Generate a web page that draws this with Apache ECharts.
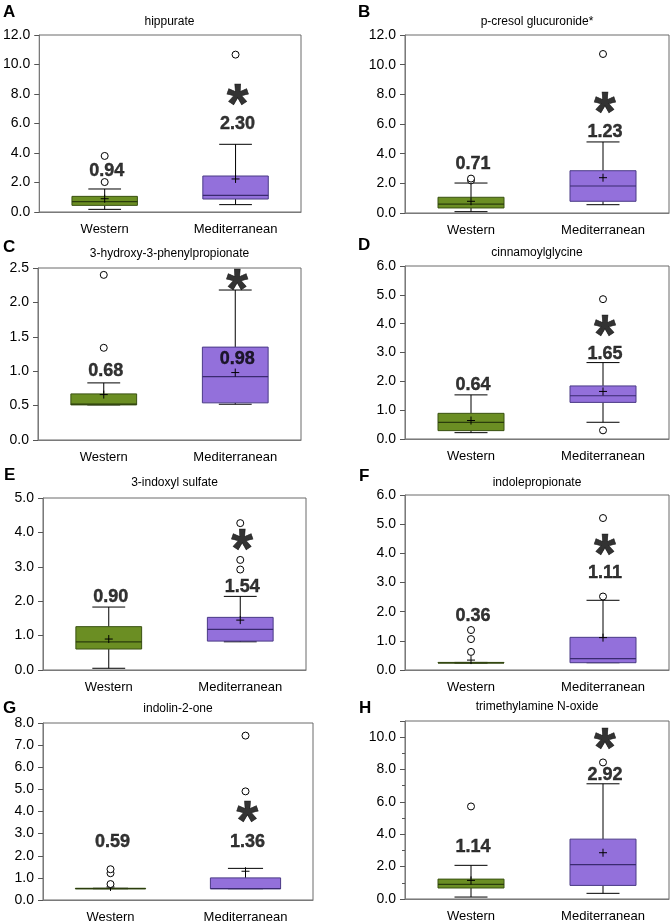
<!DOCTYPE html>
<html><head><meta charset="utf-8">
<script src="https://cdn.jsdelivr.net/npm/echarts/dist/echarts.min.js"></script>
<style>html,body{margin:0;padding:0;background:#fff}#c{width:672px;height:924px}</style>
</head><body><div id="c"></div>
<script>
// ---------------- DATA ----------------
const categories = ['Western', 'Mediterranean'];
const panelLetters = ['A', 'B', 'C', 'D', 'E', 'F', 'G', 'H'];
const titles = ['hippurate', 'p-cresol glucuronide*', '3-hydroxy-3-phenylpropionate', 'cinnamoylglycine',
  '3-indoxyl sulfate', 'indolepropionate', 'indolin-2-one', 'trimethylamine N-oxide'];
// box stats: [whisker min, Q1, median, Q3, whisker max]
const westernBox = [
  [0.18, 0.45, 0.70, 1.06, 1.56],
  [0.09, 0.34, 0.60, 1.06, 2.02],
  [0.51, 0.51, 0.52, 0.67, 0.83],
  [0.22, 0.29, 0.58, 0.89, 1.53],
  [0.05, 0.61, 0.82, 1.26, 1.83],
  [0.24, 0.24, 0.24, 0.26, 0.26],
  [0.51, 0.51, 0.51, 0.53, 0.53],
  [0.12, 0.68, 0.90, 1.23, 2.08]
];
const mediterraneanBox = [
  [0.50, 0.88, 1.13, 2.44, 4.59],
  [0.56, 0.79, 1.82, 2.85, 4.79],
  [0.52, 0.54, 0.92, 1.35, 2.18],
  [0.58, 1.27, 1.50, 1.84, 2.65],
  [0.82, 0.84, 1.18, 1.53, 2.14],
  [0.25, 0.25, 0.39, 1.12, 2.39],
  [0.51, 0.51, 0.51, 1.00, 1.43],
  [0.35, 0.84, 2.12, 3.70, 7.12]
];
const westernMean = [0.90, 0.79, 0.66, 0.64, 0.90, 0.34, 0.59, 1.15];
const mediterraneanMean = [2.24, 2.38, 0.98, 1.65, 1.45, 1.11, 1.30, 2.86];
const westernOutliers = [[2.03, 3.80], [2.20, 2.32], [1.34, 2.40], [], [], [0.62, 1.06, 1.37], [0.72, 1.21, 1.39], [5.72]];
const mediterraneanOutliers = [[10.67], [10.72], [], [0.30, 4.85], [2.92, 3.20, 4.27], [2.52, 5.21], [4.91, 7.43], [8.44]];
const westernLabel = ['0.94', '0.71', '0.68', '0.64', '0.90', '0.36', '0.59', '1.14'];
const mediterraneanLabel = ['2.30', '1.23', '0.98', '1.65', '1.54', '1.11', '1.36', '2.92'];
const significant = [true, true, true, true, true, true, true, true];
const yMax = [12, 12, 2.5, 6, 5, 6, 8, 11];
const yInterval = [2, 2, 0.5, 1, 1, 1, 1, 2];

// ---------------- LAYOUT ----------------
const grids = [
  {left: 38, top: 35, width: 263, height: 177},
  {left: 405, top: 35, width: 264, height: 178},
  {left: 38, top: 268, width: 263, height: 172},
  {left: 405, top: 266, width: 264, height: 173},
  {left: 43, top: 498, width: 263, height: 172},
  {left: 405, top: 495, width: 264, height: 175},
  {left: 43, top: 723, width: 270, height: 178},
  {left: 405, top: 721, width: 264, height: 178}
];
// annotation anchors in data units
const westernLabelY = [2.78, 3.28, 1.00, 1.88, 2.13, 1.86, 2.63, 3.19];
const mediterraneanLabelY = [5.99, 5.46, 1.17, 2.95, 2.42, 3.32, 2.63, 7.67];
const starY = [7.91, 7.37, 2.32, 3.90, 3.77, 4.26, 3.93, 9.84];
const letterPos = [[3, 12], [358, 12], [3, 247], [358, 245], [4, 475], [359, 476], [3, 708], [359, 708]];
const titleY = [22, 22, 254, 253, 483, 483, 709, 707];
const boxFrac = [0.5, 0.5, 0.5, 0.5, 0.5, 0.5, 0.52, 0.5];

const FONT = '"Liberation Sans", Arial, sans-serif';
const fills = ['#6B8E23', '#9370DB'];
const strokes = ['#3A5212', '#4A3A86'];
const medianColors = ['#2B3D0C', '#3A2A70'];

const option = {
  animation: false,
  textStyle: {fontFamily: FONT},
  grid: [], xAxis: [], yAxis: [], series: [], graphic: []
};

for (let p = 0; p < 8; p++) {
  const g = grids[p];
  option.grid.push({left: g.left, top: g.top, width: g.width, height: g.height,
    show: true, borderColor: '#6a6a6a', borderWidth: 1, backgroundColor: 'transparent'});
  option.xAxis.push({
    type: 'category', gridIndex: p, data: categories, boundaryGap: true,
    axisLine: {lineStyle: {color: '#7a7a7a', width: 1}},
    axisTick: {alignWithLabel: true, length: 4, lineStyle: {color: '#555'}},
    axisLabel: {color: '#000', fontSize: 13, margin: 11, fontFamily: FONT},
    splitLine: {show: false}
  });
  const isH = p === 7;
  option.yAxis.push({
    type: 'value', gridIndex: p, min: 0, max: yMax[p], interval: yInterval[p],
    axisLine: {show: true, lineStyle: {color: '#7a7a7a', width: 1}},
    axisTick: {show: true, length: 5, lineStyle: {color: '#555'}},
    minorTick: {show: isH, splitNumber: 2, length: 3, lineStyle: {color: '#555'}},
    axisLabel: {color: '#000', fontSize: 14, margin: 9, fontFamily: FONT,
      formatter: v => (Math.abs(v / yInterval[p] - Math.round(v / yInterval[p])) > 1e-6) ? '' : v.toFixed(1)},
    splitLine: {show: false}
  });

  // boxes
  const boxData = [
    [0].concat(westernBox[p], [westernMean[p]]),
    [1].concat(mediterraneanBox[p], [mediterraneanMean[p]])
  ];
  option.series.push({
    type: 'custom', xAxisIndex: p, yAxisIndex: p, silent: true, z: 3,
    data: boxData,
    renderItem: (params, api) => {
      const cat = api.value(0);
      const band = api.size([1, 0])[0];
      const bw = band * boxFrac[p];
      const cx = api.coord([cat, 0])[0];
      const yy = [1, 2, 3, 4, 5, 6].map(i => api.coord([cat, api.value(i)])[1]);
      const [yMin, yQ1, yMed, yQ3, yMx, yMean] = yy;
      const ci = cat;
      const L = (x1, y1, x2, y2, color, w) => ({type: 'line', shape: {x1, y1, x2, y2},
        style: {stroke: color, lineWidth: w || 1}});
      const cap = bw / 4;
      return {type: 'group', children: [
        L(cx, yMin, cx, yQ1, '#000'),
        L(cx, yQ3, cx, yMx, '#000'),
        L(cx - cap, yMin, cx + cap, yMin, '#000'),
        L(cx - cap, yMx, cx + cap, yMx, '#000'),
        {type: 'rect', shape: {x: cx - bw / 2, y: yQ3, width: bw, height: Math.max(yQ1 - yQ3, 0.5)},
          style: {fill: fills[ci], stroke: strokes[ci], lineWidth: 1}},
        L(cx - bw / 2, yMed, cx + bw / 2, yMed, medianColors[ci], 1.2),
        L(cx - 4, yMean, cx + 4, yMean, '#000'),
        L(cx, yMean - 4, cx, yMean + 4, '#000')
      ]};
    }
  });

  // outliers
  const outs = westernOutliers[p].map(v => [0, v]).concat(mediterraneanOutliers[p].map(v => [1, v]));
  option.series.push({
    type: 'scatter', xAxisIndex: p, yAxisIndex: p, silent: true, z: 4,
    symbol: 'circle', symbolSize: 7,
    itemStyle: {color: '#fff', borderColor: '#000', borderWidth: 1, opacity: 1},
    data: outs
  });

  // value labels
  option.series.push({
    type: 'scatter', xAxisIndex: p, yAxisIndex: p, silent: true, z: 5,
    symbolSize: 1, itemStyle: {color: 'rgba(0,0,0,0)'},
    label: {show: true, position: 'inside', align: 'center', verticalAlign: 'middle',
      formatter: prm => prm.data[2], fontSize: 18, fontWeight: 'bold', color: '#000', fontFamily: FONT,
      textBorderColor: '#000', textBorderWidth: 0.4, offset: [2, 0]},
    data: [[0, westernLabelY[p], westernLabel[p]], [1, mediterraneanLabelY[p], mediterraneanLabel[p]]]
  });
  // significance stars
  if (significant[p]) {
    option.series.push({
      type: 'scatter', xAxisIndex: p, yAxisIndex: p, silent: true, z: 5,
      symbolSize: 1, itemStyle: {color: 'rgba(0,0,0,0)'},
      label: {show: true, position: 'inside', align: 'center', verticalAlign: 'middle',
        formatter: '*', fontSize: 56, fontWeight: 'bold', color: '#000', fontFamily: FONT,
        textBorderColor: '#000', textBorderWidth: 0.6, offset: [2, 11]},
      data: [[1, starY[p]]]
    });
  }

  // title & panel letter
  option.graphic.push({type: 'text', silent: true, style: {text: titles[p], x: g.left + g.width / 2, y: titleY[p],
    textAlign: 'center', textVerticalAlign: 'middle', font: '12px ' + FONT, fill: '#000'}});
  option.graphic.push({type: 'text', silent: true, style: {text: panelLetters[p], x: letterPos[p][0], y: letterPos[p][1],
    textAlign: 'left', textVerticalAlign: 'middle', font: 'bold 17px ' + FONT, fill: '#000'}});
}

const chart = echarts.init(document.getElementById('c'), null, {renderer: 'canvas'});
chart.setOption(option);
</script>
</body></html>
